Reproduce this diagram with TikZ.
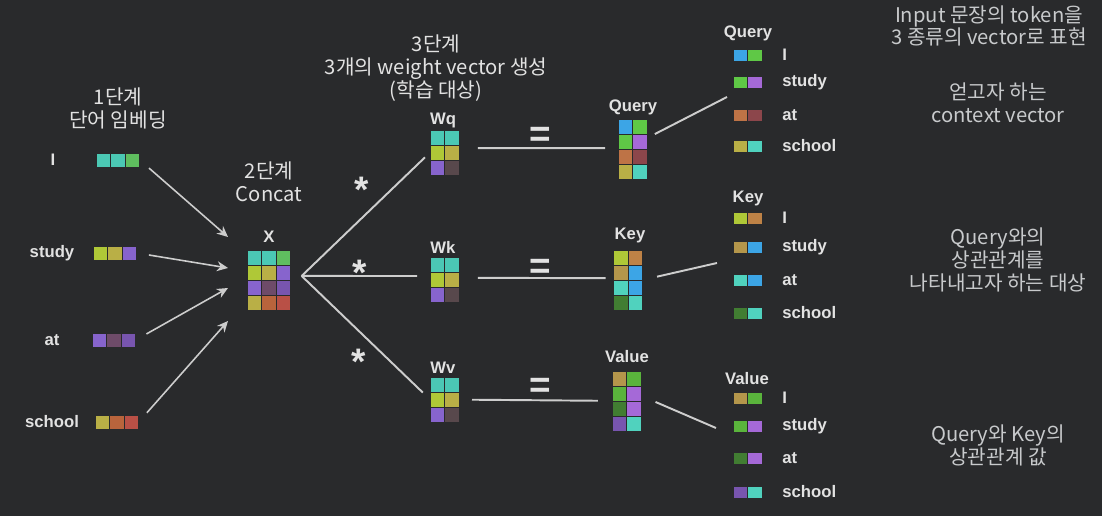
\documentclass[tikz,border=0pt]{standalone}
\usepackage{fontspec}
\newfontfamily\kr{Noto Sans CJK KR}
\newfontfamily\lab{Liberation Sans}
\usetikzlibrary{arrows.meta,calc}
\definecolor{bg}{RGB}{41,42,44}
\definecolor{txt}{RGB}{226,226,226}
\definecolor{txtdim}{RGB}{200,202,204}
\definecolor{lnc}{RGB}{205,205,205}
\definecolor{cTeal}{RGB}{75,200,180}
\definecolor{cGreen}{RGB}{95,190,95}
\definecolor{cLime}{RGB}{175,200,55}
\definecolor{cOlive}{RGB}{185,175,70}
\definecolor{cPurple}{RGB}{135,100,205}
\definecolor{cMauve}{RGB}{110,75,105}
\definecolor{cViolet}{RGB}{120,85,175}
\definecolor{cTan}{RGB}{180,150,75}
\definecolor{cRust}{RGB}{185,100,60}
\definecolor{cRed}{RGB}{185,80,70}
\definecolor{cBlue}{RGB}{60,165,230}
\definecolor{cBGreen}{RGB}{95,200,70}
\definecolor{cGrass}{RGB}{90,180,60}
\definecolor{cLilac}{RGB}{165,105,215}
\definecolor{cOrange}{RGB}{190,115,70}
\definecolor{cMaroon}{RGB}{140,70,75}
\definecolor{cAqua}{RGB}{80,210,190}
\definecolor{cBrOrange}{RGB}{190,130,70}
\definecolor{cDGreen}{RGB}{65,125,50}
\definecolor{cPlum}{RGB}{88,72,76}
\tikzset{
  head/.style={font=\kr\fontsize{11.5}{13}\selectfont,text=txt,align=center,inner sep=0pt},
  note/.style={head,text=txtdim},
  lbl/.style={font=\lab\bfseries\fontsize{9.5}{11}\selectfont,text=txt,inner sep=0pt},
  tok/.style={lbl,anchor=west},
  mat/.style 2 args={inner sep=0pt,outer sep=0pt,minimum width=#1,minimum height=#2},
  op/.style={font=\lab\bfseries\fontsize{21}{21}\selectfont,text=txt,inner sep=0pt},
  arr/.style={-{Stealth[length=2.2mm,width=2mm]},line width=0.9pt,lnc},
  link/.style={line width=1.1pt,lnc},
}
% #1 node, #2 columns, #3 cell height, #4 colours row by row
\newcommand{\paintcells}[4]{%
  \edef\celllist{#4}%
  \foreach \cc [count=\k from 0] in \celllist {
    \pgfmathtruncatemacro{\cx}{mod(\k,#2)}
    \pgfmathtruncatemacro{\cy}{div(\k,#2)}
    \fill[\cc,draw=bg,line width=0.4pt]
      ($(#1.north west)+(\cx*14.5,\cy*#3)$) rectangle ++(14.5,#3);
  }%
}

\begin{document}
\begin{tikzpicture}[x=0.02cm,y=-0.02cm,>=Stealth]
  \useasboundingbox[fill=bg] (0,0) rectangle (1102,516);

  % 1단계: word embeddings
  \node[head] (h1) at (118,108.5) {1단계\\단어 임베딩};
  \foreach \w/\tx/\vx/\y/\cl [count=\i] in
    {I/53/118/160/{cTeal,cTeal,cGreen},
     study/52/115/253/{cLime,cOlive,cPurple},
     at/52/114/340/{cPurple,cMauve,cViolet},
     school/52/117/422/{cOlive,cRust,cRed}}{
    \node[lbl] (word\i) at (\tx,\y) {\w};
    \node[mat={0.87cm}{0.28cm}] (emb\i) at (\vx,\y) {};
    \paintcells{emb\i}{3}{14}{\cl}
  }

  % 2단계: concat
  \node[head] (h2) at (269,181.5) {2단계\\Concat};
  \node[lbl] (xlab) at (269,237) {X};
  \node[mat={0.87cm}{1.2cm}] (X) at (269,280) {};
  \paintcells{X}{3}{15}{cTeal,cTeal,cGreen,cLime,cOlive,cPurple,cPurple,cMauve,cViolet,cOlive,cRust,cRed}

  \coordinate (xin1) at (228,237);
  \coordinate (xin2) at (228,268);
  \coordinate (xin3) at (228,288);
  \coordinate (xin4) at (228,321);
  \foreach \i in {1,...,4}
    \draw[arr,shorten <=7pt] (emb\i.east) -- (xin\i);

  % 3단계: weights
  \node[head] (h3) at (436,68) {3단계\\3개의 weight vector 생성\\(학습 대상)};
  \foreach \n/\y in {q/152.5,k/279.5,v/399.5}{
    \node[lbl] (wlab\n) at (443,\y-32) {W\n};
    \node[mat={0.58cm}{0.9cm}] (W\n) at (444.5,\y) {};
    \paintcells{W\n}{2}{15}{cTeal,cTeal,cLime,cOlive,cPurple,cPlum}
  }

  \coordinate (fork) at ([xshift=6.2pt,yshift=2.3pt]X.east);
  \draw[link,shorten >=4pt] (fork) -- (Wq.west);
  \draw[link,shorten >=7.4pt] (fork) -- ([yshift=2pt]Wk.west);
  \draw[link,shorten >=5.7pt] (fork) -- (Wv.west);

  \node[op] (starq) at (362,190) {*};
  \node[op] (stark) at (360,273) {*};
  \node[op] (starv) at (359,362) {*};

  % Query / Key / Value
  \node[lbl] (qlab) at (633,107) {Query};
  \node[mat={0.58cm}{1.2cm}] (Q) at (632.5,149.5) {};
  \paintcells{Q}{2}{15}{cBlue,cBGreen,cBGreen,cLilac,cOrange,cMaroon,cOlive,cAqua}

  \node[lbl] (klab) at (630,235) {Key};
  \node[mat={0.58cm}{1.2cm}] (K) at (628,280) {};
  \paintcells{K}{2}{15}{cLime,cBrOrange,cTan,cBlue,cAqua,cBlue,cDGreen,cAqua}

  \node[lbl] (vlab) at (627,357) {Value};
  \node[mat={0.58cm}{1.2cm}] (V) at (626.5,401) {};
  \paintcells{V}{2}{15}{cTan,cGrass,cGrass,cLilac,cDGreen,cLilac,cViolet,cAqua}

  \draw[link,shorten <=10.8pt,shorten >=7.4pt] ([yshift=2.5pt]Wq.east) -- ([yshift=0.8pt]Q.west);
  \draw[link,shorten <=10.8pt,shorten >=4.5pt] ([yshift=1pt]Wk.east) -- ([yshift=1pt]K.west);
  \draw[link,shorten <=7.4pt,shorten >=8pt] (Wv) -- (V);
  \node[op] (eqq) at (540,137) {=};
  \node[op] (eqk) at (540,269) {=};
  \node[op] (eqv) at (540,388) {=};

  % token lists
  \node[lbl] (qhead) at (748,33) {Query};
  \foreach \w/\y/\cl [count=\i] in
    {I/55/{cBlue,cBGreen},study/82/{cBGreen,cLilac},
     at/115/{cOrange,cMaroon},school/146/{cOlive,cAqua}}{
    \node[mat={0.58cm}{0.24cm}] (qrow\i) at (747.5,\y) {};
    \paintcells{qrow\i}{2}{12}{\cl}
    \node[tok] (qtok\i) at (782,\y) {\w};
  }
  \node[lbl] (khead) at (748,198) {Key};
  \foreach \w/\y/\cl [count=\i] in
    {I/218/{cLime,cBrOrange},study/247/{cTan,cBlue},
     at/280/{cAqua,cBlue},school/313/{cDGreen,cAqua}}{
    \node[mat={0.58cm}{0.24cm}] (krow\i) at (747.5,\y) {};
    \paintcells{krow\i}{2}{12}{\cl}
    \node[tok] (ktok\i) at (782,\y) {\w};
  }
  \node[lbl] (vhead) at (747,379) {Value};
  \foreach \w/\y/\cl [count=\i] in
    {I/398/{cTan,cGrass},study/426/{cGrass,cLilac},
     at/458/{cDGreen,cLilac},school/492/{cViolet,cAqua}}{
    \node[mat={0.58cm}{0.24cm}] (vrow\i) at (747.5,\y) {};
    \paintcells{vrow\i}{2}{12}{\cl}
    \node[tok] (vtok\i) at (782,\y) {\w};
  }

  \coordinate (qin) at (727,97);
  \coordinate (kin) at (717,263);
  \coordinate (vin) at (716,428);
  \draw[link,shorten <=5pt] ([yshift=6.5pt]Q.east) -- (qin);
  \draw[link,shorten <=8.5pt] (K.east) -- (kin);
  \draw[link,shorten <=9pt] ([yshift=3pt]V.east) -- (vin);

  % notes
  \node[note] (n1) at (989,26) {Input 문장의 token을\\3 종류의 vector로 표현};
  \node[note] (n2) at (998,102.5) {얻고자 하는\\context vector};
  \node[note] (n3) at (998,260) {Query와의\\상관관계를\\나타내고자 하는 대상};
  \node[note] (n4) at (998,445.5) {Query와 Key의\\상관관계 값};
\end{tikzpicture}
\end{document}
